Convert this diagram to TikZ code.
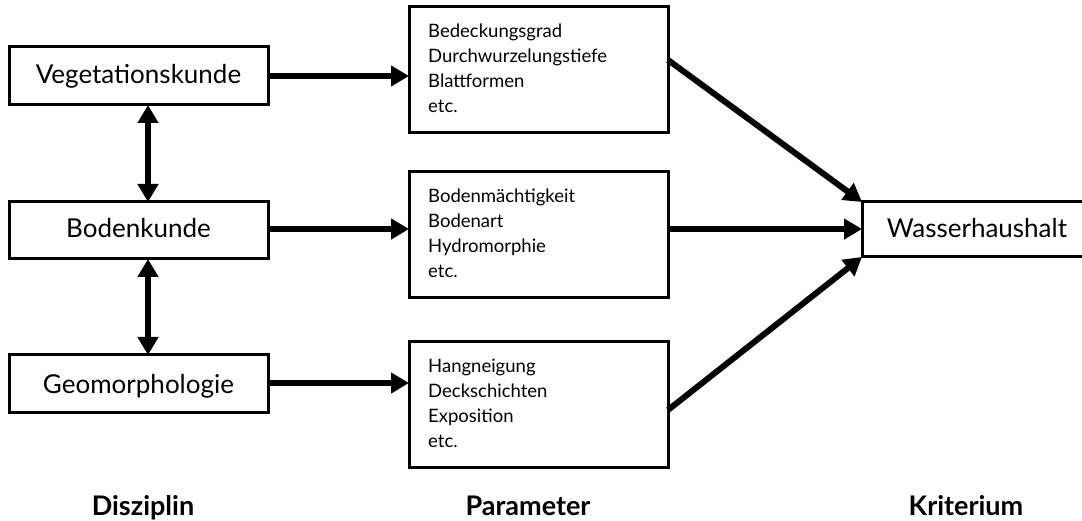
\documentclass[tikz,border=0pt]{standalone}
\usepackage{fontspec}
\setmainfont{Lato}
\usetikzlibrary{arrows.meta}
\begin{document}
\begin{tikzpicture}[x=1pt,y=-1pt,
  box/.style={draw,line width=3pt,inner sep=0pt},
  conn/.style={line width=6pt,-{Triangle[length=18pt,width=20pt]}},
  dconn/.style={line width=6pt,{Triangle[length=18pt,width=20pt]}-{Triangle[length=18pt,width=20pt]}},
  disc/.style={font=\fontsize{26}{30}\selectfont,anchor=base,inner sep=0pt},
  par/.style={font=\fontsize{18.5}{25}\selectfont,align=left,anchor=north west,inner sep=0pt},
  foot/.style={font=\bfseries\fontsize{27}{30}\selectfont,anchor=base,inner sep=0pt}]
\useasboundingbox (0,0) rectangle (1082,521);
% discipline boxes
\draw[box] (9,47) rectangle (268,105);
\node[disc] (veg) at (138.5,84) {Vegetationskunde};
\draw[box] (9,202) rectangle (268,259);
\node[disc] (bod) at (138.5,238) {Bodenkunde};
\draw[box] (9,355) rectangle (268,412);
\node[disc] (geo) at (138.5,393) {Geomorphologie};
\coordinate (vegR) at (268,76); \coordinate (vegB) at (148,105);
\coordinate (bodR) at (268,229); \coordinate (bodT) at (148,202); \coordinate (bodB) at (148,259);
\coordinate (geoR) at (268,383); \coordinate (geoT) at (148,355);
% parameter boxes
\draw[box] (409,7) rectangle (668,133);
\node[par] (p1) at (428,24) {Bedeckungsgrad\\Durchwurzelungstiefe\\Blattformen\\etc.};
\draw[box] (409,172) rectangle (668,298);
\node[par] (p2) at (428,189) {Bodenmächtigkeit\\Bodenart\\Hydromorphie\\etc.};
\draw[box] (409,342) rectangle (668,467);
\node[par] (p3) at (428,359) {Hangneigung\\Deckschichten\\Exposition\\etc.};
\coordinate (p1L) at (409,76); \coordinate (p1R) at (668,60);
\coordinate (p2L) at (409,229); \coordinate (p2R) at (668,229);
\coordinate (p3L) at (409,383); \coordinate (p3R) at (668,410);
% criterion
\draw[box] (1090,202) -- (862,202) -- (862,257) -- (1090,257);
\node[disc] (was) at (977,238) {Wasserhaushalt};
\coordinate (wTL) at (862,202); \coordinate (wL) at (862,229); \coordinate (wBL) at (862,257);
% connectors
\draw[conn] (vegR) -- (p1L);
\draw[conn] (bodR) -- (p2L);
\draw[conn] (geoR) -- (p3L);
\draw[dconn] (vegB) -- (bodT);
\draw[dconn] (bodB) -- (geoT);
\draw[conn] (p1R) -- (wTL);
\draw[conn] (p2R) -- (wL);
\draw[conn] (p3R) -- (wBL);
% footer
\node[foot] (f1) at (143,515) {Disziplin};
\node[foot] (f2) at (528,515) {Parameter};
\node[foot] (f3) at (966,515) {Kriterium};
\end{tikzpicture}
\end{document}
